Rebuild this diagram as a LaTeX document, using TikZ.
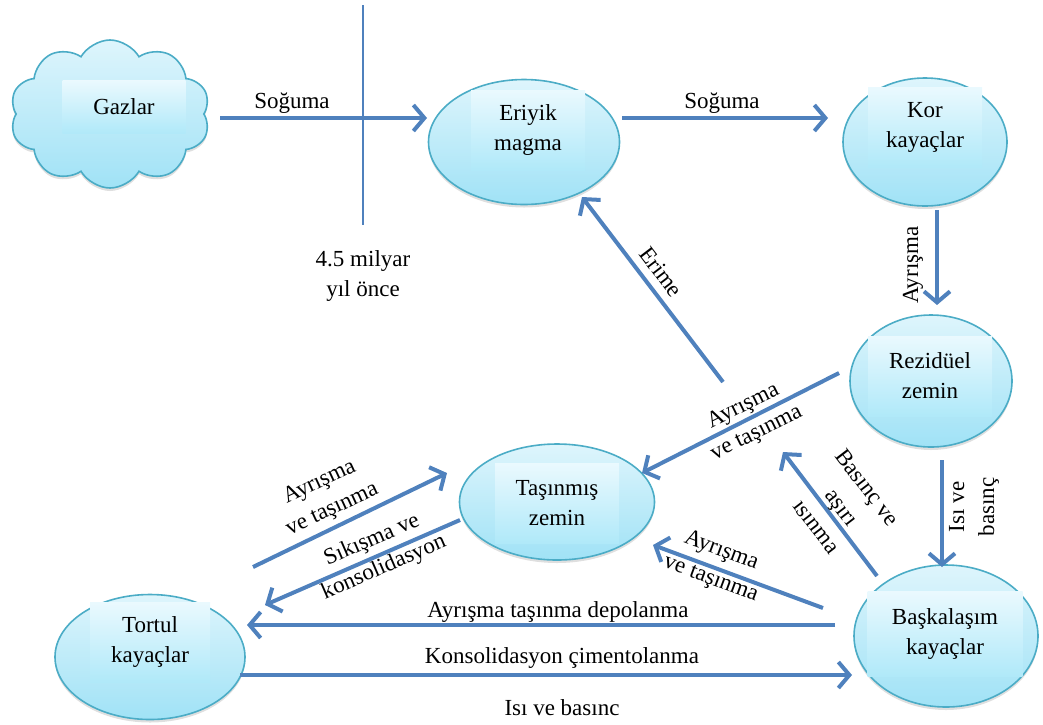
\documentclass[tikz,border=0pt]{standalone}
\usepackage{fontspec}
\setmainfont{Liberation Serif}
\usetikzlibrary{arrows.meta,shapes.symbols,shapes.geometric,shadows}
\definecolor{lineblue}{RGB}{79,129,189}
\definecolor{edgeteal}{RGB}{75,172,198}
\definecolor{filltop}{RGB}{222,245,252}
\definecolor{fillbot}{RGB}{160,226,246}
\definecolor{recttop}{RGB}{234,249,254}
\definecolor{rectbot}{RGB}{176,233,249}
\begin{document}
\begin{tikzpicture}[x=1pt,y=-1pt,
  every node/.style={font=\fontsize{23}{30}\selectfont},
  bubble/.style={ellipse, draw=edgeteal, line width=1.6pt, inner sep=0pt,
    top color=filltop, bottom color=fillbot,
    drop shadow={shadow xshift=0pt, shadow yshift=-3pt, opacity=0.25}},
  puffy/.style={cloud, cloud puffs=10, cloud puff arc=120, cloud ignores aspect,
    draw=edgeteal, line width=1.6pt, inner sep=0pt,
    top color=filltop, bottom color=fillbot,
    drop shadow={shadow xshift=0pt, shadow yshift=-3pt, opacity=0.25}},
  inbox/.style={rectangle, top color=recttop, bottom color=rectbot, align=center, inner sep=0pt},
  flow/.style={draw=lineblue, line width=4pt, -{Straight Barb[length=11pt,width=26pt,line width=4pt]}},
  lbl/.style={align=center, inner sep=0pt}]
\useasboundingbox (0,0) rectangle (1043,724);

% shapes
\node[puffy, minimum width=200pt, minimum height=148pt] (gaz) at (110,114) {};
\node[bubble, minimum width=191pt, minimum height=125pt] (magma) at (524,142) {};
\node[bubble, minimum width=164pt, minimum height=128pt] (kor) at (925,142) {};
\node[bubble, minimum width=162pt, minimum height=132pt] (rez) at (931,381) {};
\node[bubble, minimum width=195pt, minimum height=116pt] (tas) at (557,502) {};
\node[bubble, minimum width=190pt, minimum height=125pt] (tortul) at (150,657) {};
\node[bubble, minimum width=184pt, minimum height=142pt] (bask) at (946,636) {};

% inner text boxes
\node[inbox, minimum width=123pt, minimum height=53pt] (gazt) at (124,107) {Gazlar};
\node[inbox, minimum width=114pt, minimum height=80pt] (magmat) at (528,130) {Eriyik\\magma};
\node[inbox, minimum width=114pt, minimum height=80pt] (kort) at (925,127) {Kor\\kayaçlar};
\node[inbox, minimum width=124pt, minimum height=80pt] (rezt) at (930,376) {Rezidüel\\zemin};
\node[inbox, minimum width=124pt, minimum height=80pt] (tast) at (557,503) {Taşınmış\\zemin};
\node[inbox, minimum width=120pt, minimum height=80pt] (tortult) at (150,642) {Tortul\\kayaçlar};
\node[inbox, minimum width=155pt, minimum height=85pt] (baskt) at (945,634) {Başkalaşım\\kayaçlar};

% connector end points
\coordinate (g1) at (220,118); \coordinate (m1) at (427,118);
\coordinate (m2) at (622,118); \coordinate (k1) at (828,118);
\coordinate (k2) at (937,210); \coordinate (r1) at (937,305);
\coordinate (e1) at (723,382); \coordinate (e2) at (582,197);
\coordinate (r2) at (839,373); \coordinate (t1) at (642,473);
\coordinate (r3) at (942,460); \coordinate (b1) at (942,567);
\coordinate (b2) at (877,576); \coordinate (x1) at (783,452);
\coordinate (b3) at (823,608); \coordinate (t2) at (653,545);
\coordinate (o1) at (253,567); \coordinate (t3) at (447,473);
\coordinate (t4) at (460,520); \coordinate (o2) at (265,605);
\coordinate (b4) at (835,625); \coordinate (o3) at (247,625);
\coordinate (o4) at (240,675); \coordinate (b5) at (852,675);
\coordinate (v1) at (363,5); \coordinate (v2) at (363,225);

% connectors
\draw[draw=lineblue, line width=2pt] (v1) -- (v2);
\draw[flow] (g1) -- (m1);
\draw[flow] (m2) -- (k1);
\draw[flow] (k2) -- (r1);
\draw[flow] (e1) -- (e2);
\draw[flow] (r2) -- (t1);
\draw[flow] (r3) -- (b1);
\draw[flow] (b2) -- (x1);
\draw[flow] (b3) -- (t2);
\draw[flow] (o1) -- (t3);
\draw[flow] (t4) -- (o2);
\draw[flow] (b4) -- (o3);
\draw[flow] (o4) -- (b5);

% labels
\node[lbl] (l1) at (292,103) {Soğuma};
\node[lbl] (l2) at (722,103) {Soğuma};
\node[lbl] (l3) at (363,276) {4.5 milyar\\yıl önce};
\node[lbl, rotate=90] (l4) at (913,265) {Ayrışma};
\node[lbl, rotate=-52.7] (l5) at (661,272) {Erime};
\node[lbl, rotate=26.4] (l6) at (750,420) {Ayrışma\\ve taşınma};
\node[lbl, rotate=90] (l7) at (974,507) {Isı ve\\basınç};
\node[lbl, rotate=-52.6, font=\fontsize{23}{32}\selectfont] (l8) at (842,507) {Basınç ve\\aşırı\\ısınma};
\node[lbl, rotate=-20.3] (l9) at (716,565) {Ayrışma\\ve taşınma};
\node[lbl, rotate=25] (l10) at (326,496) {Ayrışma\\ve taşınma};
\node[lbl, rotate=23.5] (l11) at (378,554) {Sıkışma ve\\konsolidasyon};
\node[lbl] (l12) at (558,612) {Ayrışma taşınma depolanma};
\node[lbl] (l13) at (562,658) {Konsolidasyon çimentolanma};
\node[lbl] (l14) at (562,708) {Isı ve basınc};
\end{tikzpicture}
\end{document}
